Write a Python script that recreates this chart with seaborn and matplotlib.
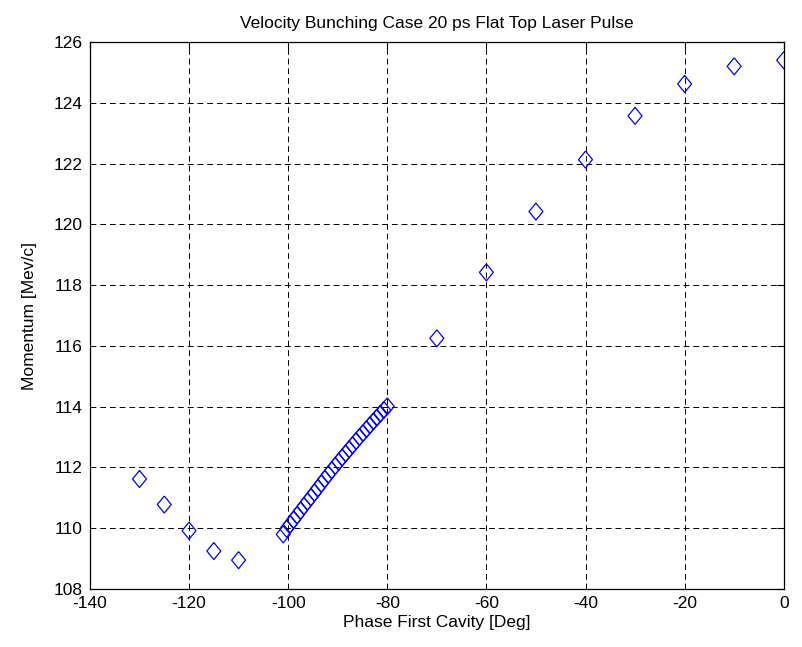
import matplotlib
matplotlib.use("Agg")
import matplotlib.pyplot as plt
import seaborn as sns
import pandas as pd
from matplotlib.markers import MarkerStyle

# Coarse phase scan
phase_coarse = [-130, -125, -120, -115, -110, -70, -60, -50, -40, -30, -20, -10, 0]
mom_coarse = [111.62, 110.78, 109.92, 109.25, 108.95, 116.25, 118.42, 120.42,
              122.13, 123.57, 124.62, 125.20, 125.40]

# Fine phase scan near the bunching region
phase_fine = [-101.0, -100.3, -99.6, -98.9, -98.2, -97.5, -96.8, -96.1, -95.4,
              -94.7, -94.0, -93.3, -92.6, -91.9, -91.2, -90.5, -89.8, -89.1,
              -88.4, -87.7, -87.0, -86.3, -85.6, -84.9, -84.2, -83.5, -82.8,
              -82.1, -81.4, -80.7, -80.0]
mom_fine = [109.80, 109.98, 110.13, 110.28, 110.43, 110.58, 110.73, 110.88,
            111.02, 111.17, 111.32, 111.47, 111.62, 111.77, 111.91, 112.05,
            112.19, 112.33, 112.46, 112.60, 112.73, 112.87, 113.00, 113.13,
            113.26, 113.39, 113.52, 113.64, 113.77, 113.89, 114.01]

x_ticks = [-140, -120, -100, -80, -60, -40, -20, 0]
y_ticks = [108, 110, 112, 114, 116, 118, 120, 122, 124, 126]

df = pd.DataFrame({
    "phase": phase_coarse + phase_fine,
    "momentum": mom_coarse + mom_fine,
})

sns.set_theme(style="white")
plt.rcParams["font.family"] = ["Liberation Sans", "DejaVu Sans"]
plt.rcParams["axes.unicode_minus"] = False
plt.rcParams["text.color"] = "black"
plt.rcParams["axes.labelcolor"] = "black"

fig = plt.figure(figsize=(8.03, 6.47), dpi=100)
ax = fig.add_axes([0.112, 0.0896, 0.864, 0.8455])

diamond = MarkerStyle([(0, 1), (0.82, 0), (0, -1), (-0.82, 0), (0, 1)])
sns.scatterplot(data=df, x="phase", y="momentum", ax=ax, marker=diamond,
                s=150, facecolor="none", edgecolor="#0000ff", linewidth=0.9,
                legend=False, zorder=3)

ax.set_xlim(-140, 0)
ax.set_ylim(108, 126)
ax.set_xticks(x_ticks)
ax.set_yticks(y_ticks)
ax.grid(True, color="black", linestyle=(0, (6, 4)), linewidth=0.7)
ax.tick_params(direction="in", top=True, right=True, length=5, width=0.8,
               labelsize=12.5, colors="black", pad=5)
for sp in ax.spines.values():
    sp.set_color("black")
    sp.set_linewidth(0.9)

ax.set_xlabel("Phase First Cavity [Deg]", fontsize=12.5, labelpad=3, color="black")
ax.set_ylabel("Momentum [Mev/c]", fontsize=12.5, labelpad=12, color="black")
ax.set_title("Velocity Bunching Case 20 ps Flat Top Laser Pulse", fontsize=12.5,
             pad=10, color="black")

fig.savefig("out.png", dpi=100)
